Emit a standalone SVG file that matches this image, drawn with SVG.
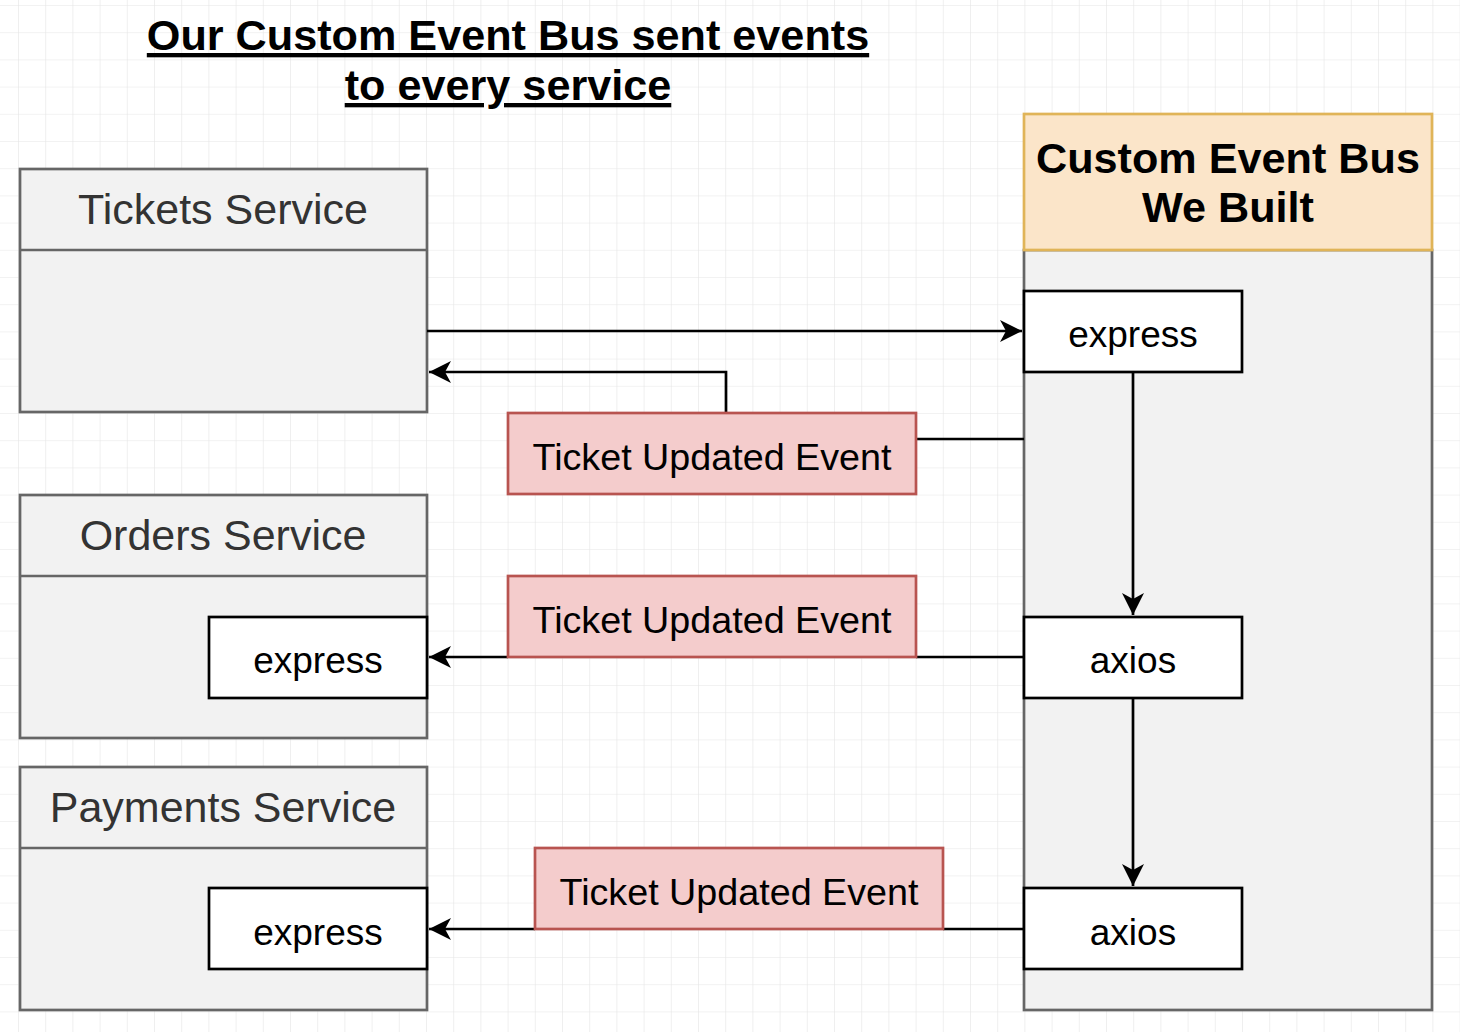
<svg xmlns="http://www.w3.org/2000/svg" width="1460" height="1032" viewBox="0 0 1460 1032">
<defs>
<pattern id="grid" x="18" y="5" width="27.2" height="27.2" patternUnits="userSpaceOnUse">
<path d="M0 0H27.2M0 0V27.2" fill="none" stroke="#e6e6e6" stroke-width="1.2"/>
</pattern>
<marker id="arr" markerUnits="userSpaceOnUse" markerWidth="26" markerHeight="24" refX="22" refY="11" orient="auto">
<path d="M0 0 L22 11 L0 22 L6 11 Z" fill="#000"/>
</marker>
<style>
.svc{fill:#f2f2f2;stroke:#666;stroke-width:2.7}
.hdr{font-family:"Liberation Sans",Arial,sans-serif;font-size:43px;fill:#333;text-anchor:middle}
.box{fill:#fff;stroke:#000;stroke-width:2.7}
.lbl{font-family:"Liberation Sans",Arial,sans-serif;font-size:37px;fill:#000;text-anchor:middle}
.evt-t{font-size:37.7px}
.evt{fill:#f4cccc;stroke:#b85450;stroke-width:2.7}
.title{font-family:"Liberation Sans",Arial,sans-serif;font-size:43.2px;font-weight:bold;fill:#000;text-anchor:middle}
.con{fill:none;stroke:#000;stroke-width:2.7}
</style>
</defs>
<rect width="1460" height="1032" fill="#fff"/>
<rect width="1460" height="1032" fill="url(#grid)"/>

<g id="title">
<text class="title" x="508" y="50" text-decoration="underline">Our Custom Event Bus sent events</text>
<text class="title" x="508" y="100" text-decoration="underline">to every service</text>
</g>

<g id="tickets-service">
<rect class="svc" x="20" y="169" width="407" height="243"/>
<line x1="20" y1="250" x2="427" y2="250" stroke="#666" stroke-width="2.7"/>
<text class="hdr" x="223" y="224">Tickets Service</text>
</g>

<g id="orders-service">
<rect class="svc" x="20" y="495" width="407" height="243"/>
<line x1="20" y1="576" x2="427" y2="576" stroke="#666" stroke-width="2.7"/>
<text class="hdr" x="223" y="550">Orders Service</text>
</g>
<g id="orders-express">
<rect class="box" x="209" y="617" width="218" height="81"/>
<text class="lbl" x="318" y="673">express</text>
</g>

<g id="payments-service">
<rect class="svc" x="20" y="767" width="407" height="243"/>
<line x1="20" y1="848" x2="427" y2="848" stroke="#666" stroke-width="2.7"/>
<text class="hdr" x="223" y="822">Payments Service</text>
</g>
<g id="payments-express">
<rect class="box" x="209" y="888" width="218" height="81"/>
<text class="lbl" x="318" y="945">express</text>
</g>

<g id="event-bus">
<rect class="svc" x="1024" y="250" width="408" height="760"/>
<rect x="1024" y="114" width="408" height="136" fill="#fbe5c9" stroke="#e0b458" stroke-width="2.7"/>
<text class="title" x="1228" y="173">Custom Event Bus</text>
<text class="title" x="1228" y="222">We Built</text>
</g>
<g id="bus-express">
<rect class="box" x="1024" y="291" width="218" height="81"/>
<text class="lbl" x="1133" y="347">express</text>
</g>
<g id="bus-axios-1">
<rect class="box" x="1024" y="617" width="218" height="81"/>
<text class="lbl" x="1133" y="673">axios</text>
</g>
<g id="bus-axios-2">
<rect class="box" x="1024" y="888" width="218" height="81"/>
<text class="lbl" x="1133" y="945">axios</text>
</g>

<g id="connectors">
<path class="con" d="M427 331 H1022" marker-end="url(#arr)"/>
<path class="con" d="M1024 439 H916"/>
<path class="con" d="M726 413 V372 H429" marker-end="url(#arr)"/>
<path class="con" d="M1133 372 V615" marker-end="url(#arr)"/>
<path class="con" d="M1024 657 H916"/>
<path class="con" d="M508 657 H429" marker-end="url(#arr)"/>
<path class="con" d="M1133 698 V886" marker-end="url(#arr)"/>
<path class="con" d="M1024 929 H943"/>
<path class="con" d="M535 929 H429" marker-end="url(#arr)"/>
</g>

<g id="event-1">
<rect class="evt" x="508" y="413" width="408" height="81"/>
<text class="lbl evt-t" x="712" y="470">Ticket Updated Event</text>
</g>
<g id="event-2">
<rect class="evt" x="508" y="576" width="408" height="81"/>
<text class="lbl evt-t" x="712" y="633">Ticket Updated Event</text>
</g>
<g id="event-3">
<rect class="evt" x="535" y="848" width="408" height="81"/>
<text class="lbl evt-t" x="739" y="905">Ticket Updated Event</text>
</g>
</svg>
